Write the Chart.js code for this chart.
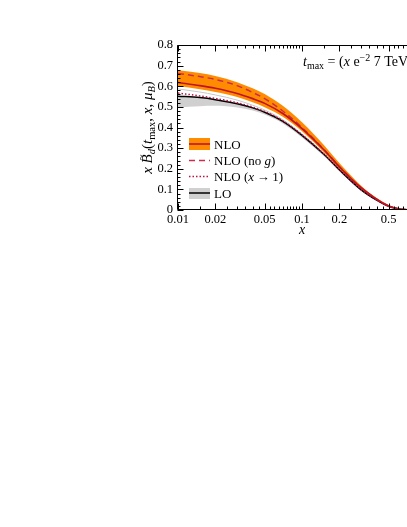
<!DOCTYPE html>
<html>
<head>
<meta charset="utf-8">
<script src="https://cdn.jsdelivr.net/npm/chart.js@4.4.1/dist/chart.umd.min.js"></script>
<style>
html,body{margin:0;padding:0;background:#fff;overflow:hidden;}
#wrap{width:407px;height:527px;overflow:hidden;position:relative;}
canvas{position:absolute;left:0;top:0;}
</style>
</head>
<body>
<div id="wrap"><canvas id="c" width="460" height="527"></canvas></div>
<script>
// ---- data ----
const xValues    = [0.01, 0.015, 0.02, 0.03, 0.04, 0.05, 0.07, 0.1, 0.15, 0.2, 0.3, 0.4, 0.5, 0.6, 0.7, 0.8, 1.0];
const nloCentral = [0.618,0.603,0.590,0.565,0.540,0.517,0.468,0.395,0.292,0.210,0.108,0.053,0.020,0.006,0.0015,0,0];
const nloUpper   = [0.677,0.664,0.650,0.620,0.590,0.562,0.505,0.425,0.315,0.228,0.118,0.058,0.024,0.008,0.002,0,0];
const nloLower   = [0.601,0.586,0.572,0.548,0.522,0.498,0.452,0.382,0.280,0.200,0.102,0.050,0.018,0.005,0.001,0,0];
const nloNoGluon = [0.662,0.647,0.633,0.603,0.570,0.540,0.480,0.400,0.294,0.211,0.108,0.053,0.020,0.006,0.0015,0,0];
const nloLargeX  = [0.567,0.553,0.541,0.520,0.499,0.478,0.433,0.365,0.272,0.197,0.099,0.049,0.018,0.005,0.001,0,0];
const loCentral  = [0.552,0.545,0.535,0.515,0.495,0.474,0.430,0.362,0.270,0.195,0.098,0.048,0.018,0.005,0.001,0,0];
const loUpper    = [0.587,0.572,0.558,0.533,0.508,0.485,0.438,0.368,0.275,0.199,0.100,0.050,0.019,0.006,0.001,0,0];
const loLower    = [0.497,0.503,0.505,0.497,0.482,0.463,0.420,0.352,0.262,0.188,0.093,0.045,0.016,0.004,0.001,0,0];

const xTickValues = [0.01, 0.02, 0.05, 0.1, 0.2, 0.5, 1];
const xTickLabels = ['0.01','0.02','0.05','0.1','0.2','0.5','1'];
const yTickValues = [0, 0.1, 0.2, 0.3, 0.4, 0.5, 0.6, 0.7, 0.8];
const yTickLabels = ['0','0.1','0.2','0.3','0.4','0.5','0.6','0.7','0.8'];
const legendLabels = ['NLO', 'NLO (no g)', 'NLO (x\u2192 1)', 'LO'];

const SERIF = '"Liberation Serif", "DejaVu Serif", serif';
const pts = arr => xValues.map((x, i) => ({x: x, y: arr[i]}));

const ORANGE = '#ff8c00';
const RED = 'rgb(190,20,35)';
const DASHRED = 'rgb(205,45,75)';
const DOTRED = 'rgb(185,20,70)';
const GRAY = 'rgb(208,208,208)';

function lineDS(label, arr, color, width, dash) {
  return {label, data: pts(arr), borderColor: color, borderWidth: width, borderDash: dash || [],
    pointRadius: 0, fill: false, cubicInterpolationMode: 'monotone'};
}

const datasets = [
  lineDS('NLO', nloCentral, RED, 1.6),                 // 0
  lineDS('NLO (no g)', nloNoGluon, DASHRED, 1.5, [6,4]), // 1
  lineDS('NLO (x->1)', nloLargeX, DOTRED, 1.5, [1.5,2]), // 2
  lineDS('LO', loCentral, '#000', 1.5),                // 3
  Object.assign(lineDS('NLO upper', nloUpper, 'rgba(0,0,0,0)', 0), {fill: 5, backgroundColor: ORANGE}), // 4
  lineDS('NLO lower', nloLower, 'rgba(0,0,0,0)', 0),   // 5
  lineDS('LO upper', loUpper, 'rgb(200,200,200)', 1),  // 6
  Object.assign(lineDS('LO lower', loLower, 'rgba(0,0,0,0)', 0), {fill: 3, backgroundColor: GRAY}) // 7
];

function font(size, italic) { return (italic ? 'italic ' : '') + size + 'px ' + SERIF; }

function richWidth(ctx, parts) {
  let w = 0;
  for (const p of parts) { ctx.font = font(p.s, p.i); w += ctx.measureText(p.t).width; }
  return w;
}
function drawRich(ctx, x, y, parts) {
  let cx = x;
  for (const p of parts) {
    ctx.font = font(p.s, p.i);
    ctx.fillText(p.t, cx, y + (p.dy || 0));
    const w = ctx.measureText(p.t).width;
    if (p.tilde) {
      ctx.save();
      ctx.font = font(p.s * 0.75, false);
      ctx.textAlign = 'center';
      ctx.fillText('~', cx + w / 2 + 1.5, y - p.s * 0.52);
      ctx.restore();
    }
    cx += w;
  }
  return cx;
}

const framePlugin = {
  id: 'frame',
  afterDatasetsDraw(chart) {
    const {ctx, chartArea: a, scales: {x, y}} = chart;
    ctx.save();
    ctx.strokeStyle = '#000';
    ctx.lineWidth = 1;
    const L = Math.round(a.left) - 0.5, R = Math.round(a.right) - 0.5;
    const T = Math.round(a.top) + 0.5, B = Math.round(a.bottom) - 0.5;
    ctx.beginPath();
    ctx.moveTo(L, T); ctx.lineTo(R, T); ctx.lineTo(R, B); ctx.lineTo(L, B); ctx.closePath();
    ctx.stroke();
    // x ticks (inward, top and bottom)
    const mult = [1.5,2.5,3,3.5,4,4.5,5.5,6,6.5,7,7.5,8,8.5,9,9.5];
    ctx.beginPath();
    for (const d of [0.01, 0.1]) {
      for (const m of mult) {
        const v = d * m;
        if (xTickValues.some(t => Math.abs(t - v) < 1e-9)) continue;
        const px = Math.round(x.getPixelForValue(v)) + 0.5;
        ctx.moveTo(px, B); ctx.lineTo(px, B - 3);
        ctx.moveTo(px, T); ctx.lineTo(px, T + 3);
      }
    }
    for (const v of xTickValues) {
      const px = Math.round(x.getPixelForValue(v)) + 0.5;
      ctx.moveTo(px, B); ctx.lineTo(px, B - 6);
      ctx.moveTo(px, T); ctx.lineTo(px, T + 6);
    }
    // y ticks
    for (let k = 0; k <= 40; k++) {
      const v = k * 0.02;
      const py = Math.round(y.getPixelForValue(v)) + 0.5;
      const len = (k % 5 === 0) ? 6 : 3;
      ctx.moveTo(L, py); ctx.lineTo(L + len, py);
      ctx.moveTo(R, py); ctx.lineTo(R - len, py);
    }
    ctx.stroke();

    ctx.fillStyle = '#000';
    ctx.textBaseline = 'alphabetic';
    ctx.textAlign = 'left';

    // x axis title
    ctx.font = font(14, true);
    ctx.textAlign = 'center';
    ctx.fillText('x', (a.left + a.right) / 2, 234);
    ctx.textAlign = 'left';

    // y axis title (rotated)
    const yt = [
      {t: 'x', s: 15, i: true}, {t: ' ', s: 15},
      {t: 'B', s: 15, i: true, tilde: true}, {t: 'd', s: 10.5, i: true, dy: 3},
      {t: '(', s: 15}, {t: 't', s: 15, i: true}, {t: 'max', s: 10.5, dy: 3},
      {t: ', ', s: 15}, {t: 'x', s: 15, i: true}, {t: ', ', s: 15},
      {t: '\u03bc', s: 15, i: true}, {t: 'B', s: 10.5, i: true, dy: 3}, {t: ')', s: 15}
    ];
    ctx.save();
    ctx.translate(152, (a.top + a.bottom) / 2);
    ctx.rotate(-Math.PI / 2);
    const w = richWidth(ctx, yt);
    drawRich(ctx, -w / 2, 0, yt);
    ctx.restore();

    // t_max annotation
    drawRich(ctx, 303, 66, [
      {t: 't', s: 14, i: true}, {t: 'max', s: 10, dy: 3}, {t: ' = (', s: 14},
      {t: 'x', s: 14, i: true}, {t: ' e', s: 14}, {t: '\u22122', s: 10, dy: -5},
      {t: ' 7 TeV)', s: 14}
    ]);

    // legend
    const ly = [144, 160.5, 176.5, 193];
    const x0 = 189, x1 = 210, tx = 214;
    ctx.fillStyle = ORANGE;
    ctx.fillRect(x0, ly[0] - 6, x1 - x0, 12);
    ctx.strokeStyle = RED; ctx.lineWidth = 1.6; ctx.setLineDash([]);
    ctx.beginPath(); ctx.moveTo(x0, ly[0]); ctx.lineTo(x1, ly[0]); ctx.stroke();
    ctx.strokeStyle = DASHRED; ctx.lineWidth = 1.5; ctx.setLineDash([6,4]);
    ctx.beginPath(); ctx.moveTo(x0, ly[1]); ctx.lineTo(x1, ly[1]); ctx.stroke();
    ctx.strokeStyle = DOTRED; ctx.setLineDash([1.5,2]);
    ctx.beginPath(); ctx.moveTo(x0, ly[2]); ctx.lineTo(x1, ly[2]); ctx.stroke();
    ctx.setLineDash([]);
    ctx.fillStyle = GRAY;
    ctx.fillRect(x0, ly[3] - 5, x1 - x0, 11);
    ctx.strokeStyle = '#000'; ctx.lineWidth = 1.5;
    ctx.beginPath(); ctx.moveTo(x0, ly[3]); ctx.lineTo(x1, ly[3]); ctx.stroke();

    ctx.fillStyle = '#000';
    drawRich(ctx, tx, ly[0] + 4.5, [{t: legendLabels[0], s: 13}]);
    drawRich(ctx, tx, ly[1] + 4.5, [{t: 'NLO (no ', s: 13}, {t: 'g', s: 13, i: true}, {t: ')', s: 13}]);
    drawRich(ctx, tx, ly[2] + 4.5, [{t: 'NLO (', s: 13}, {t: 'x', s: 13, i: true}, {t: '\u2009\u2192\u20091)', s: 13}]);
    drawRich(ctx, tx, ly[3] + 4.5, [{t: legendLabels[3], s: 13}]);
    ctx.restore();
  }
};

new Chart(document.getElementById('c'), {
  type: 'line',
  data: {datasets},
  plugins: [framePlugin],
  options: {
    responsive: false,
    animation: false,
    devicePixelRatio: 1,
    layout: {padding: {left: 118, top: 45, right: 34, bottom: 0}},
    plugins: {legend: {display: false}, tooltip: {enabled: false}},
    scales: {
      x: {
        type: 'logarithmic', min: 0.01, max: 1,
        grid: {display: false, drawTicks: false},
        border: {display: false},
        afterBuildTicks: s => { s.ticks = xTickValues.map(v => ({value: v})); },
        afterFit: s => { s.height = 317; },
        ticks: {autoSkip: false, maxRotation: 0, minRotation: 0, padding: 2, color: '#000',
          font: {family: SERIF, size: 12.5},
          callback: v => xTickLabels[xTickValues.indexOf(v)]}
      },
      y: {
        type: 'linear', min: 0, max: 0.8,
        grid: {display: false, drawTicks: false},
        border: {display: false},
        afterBuildTicks: s => { s.ticks = yTickValues.map(v => ({value: v})); },
        afterFit: s => { s.width = 60; },
        ticks: {padding: 5, color: '#000', font: {family: SERIF, size: 12.5},
          callback: v => yTickLabels[yTickValues.indexOf(v)]}
      }
    }
  }
});
</script>
</body>
</html>
